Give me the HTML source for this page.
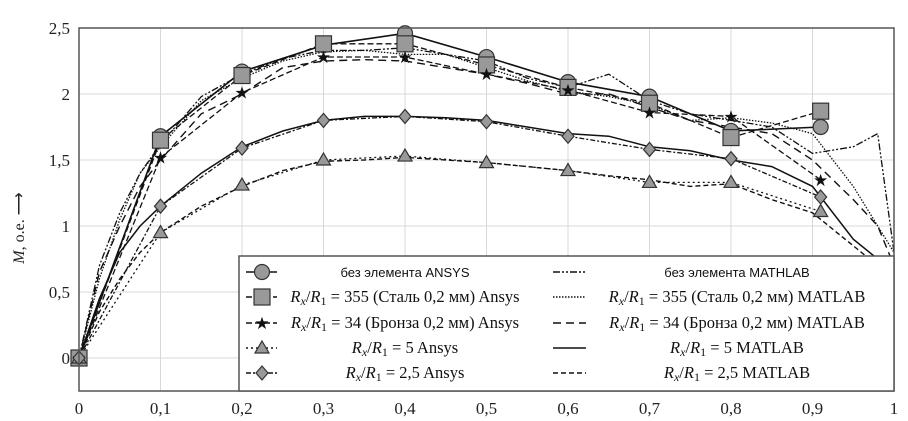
<!DOCTYPE html>
<html><head><meta charset="utf-8"><style>
body{margin:0;background:#fff}
svg{display:block;font-family:"Liberation Serif",serif}
</style></head><body>
<svg id="c" width="908" height="421"></svg>
<script>
const ticksX=[0,0.1,0.2,0.3,0.4,0.5,0.6,0.7,0.8,0.9,1];
const tickLabelsX=["0","0,1","0,2","0,3","0,4","0,5","0,6","0,7","0,8","0,9","1"];
const ticksY=[0,0.5,1,1.5,2,2.5];
const tickLabelsY=["0","0,5","1","1,5","2","2,5"];
const markerX=[0,0.1,0.2,0.3,0.4,0.5,0.6,0.7,0.8,0.91];
const circleY=[0,1.68,2.17,2.37,2.46,2.28,2.09,1.98,1.72,1.75];
const squareY=[0,1.65,2.14,2.38,2.38,2.22,2.05,1.93,1.67,1.87];
const starY=[0,1.52,2.01,2.28,2.28,2.15,2.03,1.86,1.83,1.35];
const triY=[0,0.95,1.31,1.50,1.53,1.48,1.42,1.33,1.33,1.11];
const diaY=[0,1.15,1.59,1.80,1.83,1.79,1.68,1.58,1.51,1.22];
const lineX=[0,0.025,0.05,0.075,0.1,0.15,0.2,0.25,0.3,0.35,0.4,0.45,0.5,0.55,0.6,0.65,0.7,0.75,0.8,0.85,0.9,0.95,0.98,1];
const noElemM=[0,0.7,1.1,1.4,1.62,1.98,2.15,2.27,2.33,2.33,2.35,2.3,2.25,2.12,2.05,2.15,1.95,1.85,1.8,1.75,1.55,1.6,1.7,0.8];
const steelM=[0,0.6,1.05,1.4,1.6,1.95,2.12,2.25,2.32,2.33,2.3,2.3,2.2,2.1,2.02,1.98,1.92,1.8,1.82,1.78,1.7,1.3,1.0,0.8];
const bronzeM=[0,0.65,1.0,1.3,1.5,1.85,2.0,2.2,2.25,2.26,2.25,2.2,2.15,2.08,2.0,2.0,1.9,1.8,1.75,1.7,1.5,1.2,1.0,0.7];
const r5M=[0,0.45,0.8,1.0,1.15,1.4,1.6,1.72,1.8,1.83,1.83,1.82,1.8,1.75,1.7,1.68,1.6,1.57,1.5,1.45,1.3,0.9,0.75,0.6];
const r25M=[0,0.35,0.6,0.8,0.95,1.15,1.3,1.42,1.49,1.5,1.52,1.5,1.48,1.45,1.42,1.38,1.35,1.3,1.32,1.2,1.1,0.85,0.7,0.6];

const NS="http://www.w3.org/2000/svg";
const svg=document.getElementById('c');
const L=79,R=894,T=28,B=391,Y0=358;
const sx=v=>L+v*(R-L);
const sy=v=>Y0-v*(Y0-T)/2.5;
function el(tag,a,parent){const e=document.createElementNS(NS,tag);for(const k in a)e.setAttribute(k,a[k]);(parent||svg).appendChild(e);return e;}

const defs=el('defs',{});
const cp=el('clipPath',{id:'pc'},defs);el('rect',{x:L,y:T,width:R-L,height:B-T},cp);

ticksX.forEach((t,i)=>{
 const g=el('line',{x1:sx(t),x2:sx(t),y1:T,y2:B,stroke:'#d8d8d8','stroke-width':1});
 
 
 const tx=el('text',{x:sx(t),y:414,'text-anchor':'middle','font-size':17,fill:'#222'});
 tx.textContent=tickLabelsX[i];
 
 
});
ticksY.forEach((t,i)=>{
 const g=el('line',{x1:L,x2:R,y1:sy(t),y2:sy(t),stroke:'#d8d8d8','stroke-width':1});
 
 
 const tx=el('text',{x:70,y:sy(t)+6,'text-anchor':'end','font-size':17,fill:'#222'});
 tx.textContent=tickLabelsY[i];
 
 
});
const yt=el('text',{transform:'translate(24,228) rotate(-90)','text-anchor':'middle','font-size':16,fill:'#222'});
yt.innerHTML='<tspan font-style="italic">M</tspan>, о.е. ⟶';



const pg=el('g',{'clip-path':'url(#pc)'});
function line(xs,ys,dash,w,name){
 const d=xs.map((x,i)=>(i?'L':'M')+sx(x).toFixed(1)+','+sy(ys[i]).toFixed(1)).join('');
 const p=el('path',{d,fill:'none',stroke:'#111','stroke-width':w||1.4,'stroke-dasharray':dash||'none'},pg);
 
 
}
line(lineX,noElemM,'7,2,2,2,2,2',1.3,'line-no-element-matlab');
line(lineX,steelM,'1.5,1.5',1.3,'line-steel-matlab');
line(lineX,bronzeM,'8,5',1.4,'line-bronze-matlab');
line(lineX,r5M,'',1.5,'line-r5-matlab');
line(lineX,r25M,'5,3',1.4,'line-r25-matlab');
line(markerX,circleY,'',1.6,'line-no-element-ansys');
line(markerX,squareY,'6,3',1.3,'line-steel-ansys');
line(markerX,starY,'6,3',1.3,'line-bronze-ansys');
line(markerX,triY,'2,3',1.3,'line-r5-ansys');
line(markerX,diaY,'5,2,2,2',1.3,'line-r25-ansys');

function marker(type,cx,cy,parent,name){
 let e;
 const st={fill:'#999',stroke:'#333','stroke-width':1.2};
 if(type==='c')e=el('circle',Object.assign({cx,cy,r:7.5},st),parent);
 else if(type==='s')e=el('rect',Object.assign({x:cx-8,y:cy-8,width:16,height:16},st),parent);
 else if(type==='t')e=el('path',Object.assign({d:`M${cx},${cy-7}L${cx+7},${cy+5}L${cx-7},${cy+5}Z`},st),parent);
 else if(type==='d')e=el('path',Object.assign({d:`M${cx},${cy-7}L${cx+6},${cy}L${cx},${cy+7}L${cx-6},${cy}Z`},st),parent);
 else {e=el('text',{x:cx,y:cy+6,'text-anchor':'middle','font-size':17,fill:'#111'},parent);e.textContent='★';}
 
 
}
markerX.forEach((x,i)=>marker('c',sx(x),sy(circleY[i]),svg,'marker-circle'));
markerX.forEach((x,i)=>marker('s',sx(x),sy(squareY[i]),svg,'marker-square'));
markerX.forEach((x,i)=>marker('*',sx(x),sy(starY[i]),svg,'marker-star'));
markerX.forEach((x,i)=>marker('t',sx(x),sy(triY[i]),svg,'marker-triangle'));
markerX.forEach((x,i)=>marker('d',sx(x),sy(diaY[i]),svg,'marker-diamond'));

const fr=el('rect',{x:L,y:T,width:R-L,height:B-T,fill:'none',stroke:'#555','stroke-width':1.5});



// legend
const lg=el('g',{});


el('rect',{x:239,y:256,width:R-239,height:B-256,fill:'#fff',stroke:'#555','stroke-width':1.5},lg);
const rowsY=[272,297,323,348,373];
const leftItems=[['c','','без элемента ANSYS',true],['s','6,3','355 (Сталь 0,2 мм) Ansys'],['*','6,3','34 (Бронза 0,2 мм) Ansys'],['t','2,3','5 Ansys'],['d','5,2,2,2','2,5 Ansys']];
const rightItems=[['7,2,2,2,2,2','без элемента MATHLAB',true],['1.5,1.5','355 (Сталь 0,2 мм) MATLAB'],['8,5','34 (Бронза 0,2 мм) MATLAB'],['','5 MATLAB'],['5,3','2,5 MATLAB']];
const formula='<tspan font-style="italic">R</tspan><tspan font-style="italic" font-size="12" dy="3">x</tspan><tspan dy="-3">/</tspan><tspan font-style="italic">R</tspan><tspan font-size="12" dy="3">1</tspan><tspan dy="-3"> = </tspan>';
leftItems.forEach((it,i)=>{
 const y=rowsY[i];
 el('line',{x1:246,x2:277,y1:y,y2:y,stroke:'#111','stroke-width':1.5,'stroke-dasharray':it[1]||'none'},lg);
 marker(it[0],262,y,lg,'legend-marker');
 const t=el('text',{x:405,y:y+5,'text-anchor':'middle','font-size':it[3]?13:16.5,fill:'#111'},lg);
 if(it[3]){t.setAttribute('font-family','"Liberation Sans",sans-serif');t.textContent=it[2];}
 else t.innerHTML=formula+it[2];
 
 
});
rightItems.forEach((it,i)=>{
 const y=rowsY[i];
 el('line',{x1:553,x2:586,y1:y,y2:y,stroke:'#111','stroke-width':1.5,'stroke-dasharray':it[0]||'none'},lg);
 const t=el('text',{x:737,y:y+5,'text-anchor':'middle','font-size':it[2]?13:16.5,fill:'#111'},lg);
 if(it[2]){t.setAttribute('font-family','"Liberation Sans",sans-serif');t.textContent=it[1];}
 else t.innerHTML=formula+it[1];
 
 
});
</script>
</body></html>
